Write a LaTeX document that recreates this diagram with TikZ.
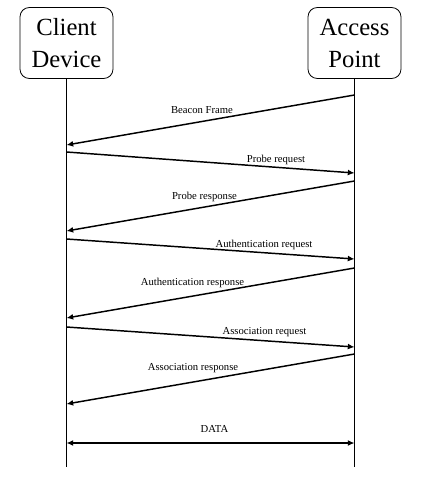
\documentclass[tikz,border=0pt]{standalone}
\usepackage{fontspec}
\setmainfont{Liberation Serif}
\usetikzlibrary{arrows.meta}
\begin{document}
\begin{tikzpicture}[x=0.75pt,y=-0.75pt,
  entity/.style={draw,rounded corners=7pt,line width=0.6pt,minimum width=69.75pt,minimum height=53.25pt,align=center,font=\fontsize{18.5}{24}\selectfont,inner sep=0pt},
  lifeline/.style={line width=0.6pt},
  msg/.style={line width=1.1pt,-{Latex[length=5pt,width=4.5pt]}},
  bimsg/.style={line width=1.1pt,{Latex[length=5pt,width=4.5pt]}-{Latex[length=5pt,width=4.5pt]}},
  lbl/.style={font=\fontsize{8}{9}\selectfont,inner sep=0pt}]
\useasboundingbox (0,0) rectangle (421,486);
\node[entity] (cd) at (66.5,43) {Client\\Device};
\node[entity] (ap) at (354.5,43) {Access\\Point};
\coordinate (cdb) at (66.5,467);
\coordinate (apb) at (354.5,467);
\draw[lifeline] (cd.south) -- (cdb);
\draw[lifeline] (ap.south) -- (apb);
% endpoints
\coordinate (a1) at (354.5,95);  \coordinate (c1) at (66.5,145);
\coordinate (c2) at (66.5,152);  \coordinate (a2) at (354.5,173);
\coordinate (a3) at (354.5,181); \coordinate (c3) at (66.5,231);
\coordinate (c4) at (66.5,239);  \coordinate (a4) at (354.5,259);
\coordinate (a5) at (354.5,268); \coordinate (c5) at (66.5,318);
\coordinate (c6) at (66.5,327);  \coordinate (a6) at (354.5,347);
\coordinate (a7) at (354.5,354); \coordinate (c7) at (66.5,404);
\coordinate (c8) at (66.5,443);  \coordinate (a8) at (354.5,443);
\draw[msg] (a1) -- (c1);
\draw[msg] (c2) -- (a2);
\draw[msg] (a3) -- (c3);
\draw[msg] (c4) -- (a4);
\draw[msg] (a5) -- (c5);
\draw[msg] (c6) -- (a6);
\draw[msg] (a7) -- (c7);
\draw[bimsg] (c8) -- (a8);
\node[lbl] (l1) at (202,110.5) {Beacon Frame};
\node[lbl] (l2) at (276,160) {Probe request};
\node[lbl] (l3) at (204.5,196.5) {Probe response};
\node[lbl] (l4) at (264,244.5) {Authentication request};
\node[lbl] (l5) at (192.5,282.5) {Authentication response};
\node[lbl] (l6) at (264.5,332) {Association request};
\node[lbl] (l7) at (193,368.5) {Association response};
\node[lbl] (l8) at (214.5,428.5) {DATA};
\end{tikzpicture}
\end{document}
